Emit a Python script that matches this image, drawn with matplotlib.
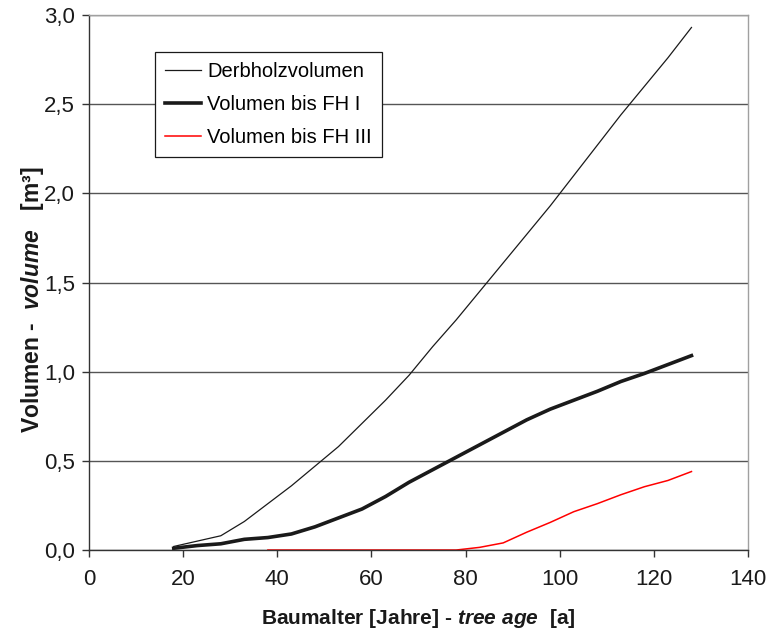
import matplotlib
matplotlib.use("Agg")
import matplotlib.pyplot as plt
from matplotlib.ticker import FuncFormatter, MultipleLocator

plt.rcParams['font.family'] = ['Liberation Sans', 'DejaVu Sans']
plt.rcParams['mathtext.fontset'] = 'custom'
plt.rcParams['mathtext.rm'] = 'Liberation Sans:bold'
plt.rcParams['mathtext.it'] = 'Liberation Sans:italic:bold'
plt.rcParams['mathtext.bf'] = 'Liberation Sans:bold'
try:
    plt.rcParams['mathtext.bfit'] = 'Liberation Sans:italic:bold'
except KeyError:
    pass

ages = [18, 23, 28, 33, 38, 43, 48, 53, 58, 63, 68, 73, 78, 83, 88, 93, 98, 103, 108, 113, 118, 123, 128]
derbholz = [0.02, 0.05, 0.08, 0.16, 0.26, 0.36, 0.47, 0.58, 0.71, 0.84, 0.98, 1.14, 1.29, 1.45, 1.61, 1.77, 1.93, 2.10, 2.27, 2.44, 2.60, 2.76, 2.93]
fh1 = [0.01, 0.025, 0.035, 0.06, 0.07, 0.09, 0.13, 0.18, 0.23, 0.30, 0.38, 0.45, 0.52, 0.59, 0.66, 0.73, 0.79, 0.84, 0.89, 0.945, 0.99, 1.04, 1.09]
ages_fh3 = [38, 43, 48, 53, 58, 63, 68, 73, 78, 83, 88, 93, 98, 103, 108, 113, 118, 123, 128]
fh3 = [0.0, 0.0, 0.0, 0.0, 0.0, 0.0, 0.0, 0.0, 0.0, 0.015, 0.04, 0.10, 0.155, 0.215, 0.26, 0.31, 0.355, 0.39, 0.44]

labels = ["Derbholzvolumen", "Volumen bis FH I", "Volumen bis FH III"]

fig = plt.figure(figsize=(7.68, 6.32), dpi=100)
ax = fig.add_axes([0.1159, 0.1297, 0.858, 0.8466])

ax.set_xlim(0, 140)
ax.set_ylim(0, 3.0)
ax.xaxis.set_major_locator(MultipleLocator(20))
ax.yaxis.set_major_locator(MultipleLocator(0.5))
ax.yaxis.set_major_formatter(FuncFormatter(lambda v, p: f"{v:.1f}".replace('.', ',')))

ax.yaxis.grid(True, color='#555555', linewidth=1.0)
ax.set_axisbelow(True)

ax.plot(ages, derbholz, color='#1a1a1a', linewidth=0.9, label=labels[0])
ax.plot(ages, fh1, color='#1a1a1a', linewidth=2.6, label=labels[1])
ax.plot(ages_fh3, fh3, color='#ff0000', linewidth=1.1, label=labels[2])

for s in ['left', 'bottom']:
    ax.spines[s].set_color('#333333')
    ax.spines[s].set_linewidth(1.0)
for s in ['top', 'right']:
    ax.spines[s].set_color('#a0a0a0')
    ax.spines[s].set_linewidth(1.0)

ax.tick_params(axis='both', direction='out', length=5, width=1.0, color='#333333',
               labelsize=16, labelcolor='#1a1a1a')
ax.tick_params(axis='x', pad=9)
ax.tick_params(axis='y', pad=5)

ax.set_xlabel(r"Baumalter [Jahre] - $\mathbfit{tree\ age}$  [a]", fontsize=15,
              fontweight='bold', color='#1a1a1a', labelpad=12)
ax.set_ylabel(r"Volumen -  $\mathbfit{volume}$   [m³]", fontsize=16.5,
              fontweight='bold', color='#1a1a1a')
ax.yaxis.set_label_coords(-0.066, 0.467)

leg = ax.legend(loc='upper left', bbox_to_anchor=(0.100, 0.931), borderaxespad=0,
                fancybox=False, edgecolor='#1a1a1a', framealpha=1, fontsize=14.5,
                handlelength=1.8, handletextpad=0.3, labelspacing=0.7,
                borderpad=0.5)
leg.get_frame().set_linewidth(0.9)

fig.savefig("out.png", dpi=100)
